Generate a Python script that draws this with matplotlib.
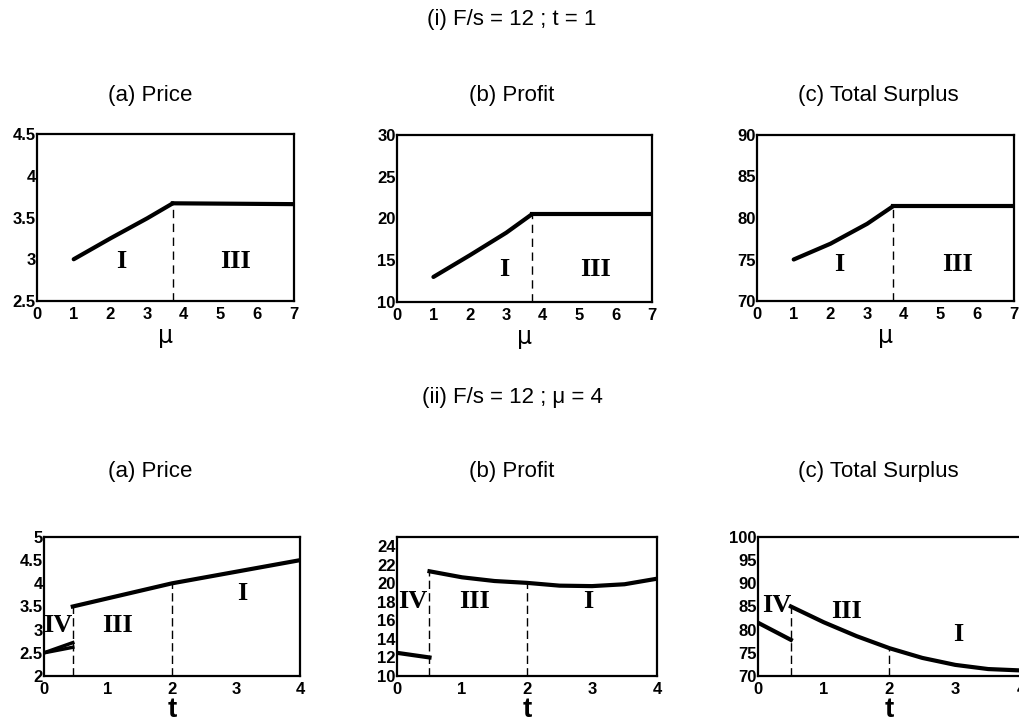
import matplotlib
matplotlib.use("Agg")
import matplotlib.pyplot as plt

# ---- data (top row: vs mu) ----
mu_I = [1.0, 2.0, 3.0, 3.7]
mu_III = [3.7, 7.0]
price_I = [3.0, 3.25, 3.49, 3.67]
price_III = [3.67, 3.66]
profit_I = [13.0, 15.6, 18.3, 20.5]
profit_III = [20.5, 20.5]
ts_I = [75.0, 76.9, 79.3, 81.4]
ts_III = [81.4, 81.4]
mu_break = 3.7

# ---- data (bottom row: vs t) ----
t_IV = [0.0, 0.45]
price_IV_a = [2.5, 2.62]
price_IV_b = [2.5, 2.72]
t_rest_p = [0.45, 2.0, 4.0]
price_rest = [3.5, 4.0, 4.5]

t_IV2 = [0.0, 0.5]
profit_IV = [12.5, 12.0]
t_rest = [0.5, 1.0, 1.5, 2.0, 2.5, 3.0, 3.5, 4.0]
profit_rest = [21.3, 20.65, 20.25, 20.05, 19.75, 19.7, 19.9, 20.5]
ts_IV = [81.5, 77.8]
ts_rest = [85.0, 81.6, 78.6, 76.0, 73.9, 72.4, 71.5, 71.2]

t_breaks_price = [0.45, 2.0]
t_breaks = [0.5, 2.0]

W, H = 1020, 725
fig = plt.figure(figsize=(W / 100, H / 100), dpi=100)

def rect(l, r, t, b):
    return [l / W, 1 - b / H, (r - l) / W, (b - t) / H]

tickfont = dict(family="Liberation Sans", weight="bold", size=12)
romfont = dict(family="Liberation Serif", weight="bold", size=19)
titlefont = dict(family="Liberation Sans", size=16)
mufont = dict(family="DejaVu Sans", size=17)
tfont = dict(family="Liberation Sans", weight="bold", size=20)

def style(ax, xlim, ylim, xticks, yticks, yticklabels=None):
    ax.set_xlim(*xlim)
    ax.set_ylim(*ylim)
    ax.set_xticks(xticks)
    ax.set_yticks(yticks)
    ax.set_xticklabels([str(x) for x in xticks], **tickfont)
    ax.set_yticklabels(yticklabels if yticklabels else [str(y) for y in yticks], **tickfont)
    ax.tick_params(axis="x", length=0, pad=4)
    ax.tick_params(axis="y", length=0, pad=1)
    for s in ax.spines.values():
        s.set_linewidth(1.6)

lw = 3
dash = (0, (6, 4))
# ---------- top row ----------
axa = fig.add_axes(rect(37, 294, 134, 301))
axa.plot(mu_I, price_I, color="black", lw=lw, solid_capstyle="round")
axa.plot(mu_III, price_III, color="black", lw=lw)
axa.plot([mu_break, mu_break], [2.5, price_I[-1]], color="black", lw=1, ls=dash)
style(axa, (0, 7), (2.5, 4.5), list(range(8)), [2.5, 3, 3.5, 4, 4.5],
      ["2.5", "3", "3.5", "4", "4.5"])
axa.text(2.3, 2.97, "I", ha="center", va="center", **romfont)
axa.text(5.4, 2.97, "III", ha="center", va="center", **romfont)
axa.set_xlabel("μ", labelpad=2, **mufont)

axb = fig.add_axes(rect(397, 652, 135, 302))
axb.plot(mu_I, profit_I, color="black", lw=lw, solid_capstyle="round")
axb.plot(mu_III, profit_III, color="black", lw=lw)
axb.plot([mu_break, mu_break], [10, profit_I[-1]], color="black", lw=1, ls=dash)
style(axb, (0, 7), (10, 30), list(range(8)), [10, 15, 20, 25, 30])
axb.text(2.95, 13.9, "I", ha="center", va="center", **romfont)
axb.text(5.45, 13.9, "III", ha="center", va="center", **romfont)
axb.set_xlabel("μ", labelpad=2, **mufont)

axc = fig.add_axes(rect(757, 1014, 135, 301))
axc.plot(mu_I, ts_I, color="black", lw=lw, solid_capstyle="round")
axc.plot(mu_III, ts_III, color="black", lw=lw)
axc.plot([mu_break, mu_break], [70, ts_I[-1]], color="black", lw=1, ls=dash)
style(axc, (0, 7), (70, 90), list(range(8)), [70, 75, 80, 85, 90])
axc.text(2.25, 74.4, "I", ha="center", va="center", **romfont)
axc.text(5.45, 74.4, "III", ha="center", va="center", **romfont)
axc.set_xlabel("μ", labelpad=2, **mufont)

# ---------- bottom row ----------
dash2 = (0, (6, 3))
bxa = fig.add_axes(rect(44, 300, 537, 676))
bxa.plot(t_IV, price_IV_a, color="black", lw=2.5)
bxa.plot(t_IV, price_IV_b, color="black", lw=2.5)
bxa.plot(t_rest_p, price_rest, color="black", lw=lw)
bxa.plot([t_breaks_price[0]] * 2, [2, price_rest[0]], color="black", lw=1, ls=dash2)
bxa.plot([t_breaks_price[1]] * 2, [2, price_rest[1]], color="black", lw=1, ls=dash2)
style(bxa, (0, 4), (2, 5), [0, 1, 2, 3, 4], [2, 2.5, 3, 3.5, 4, 4.5, 5],
      ["2", "2.5", "3", "3.5", "4", "4.5", "5"])
bxa.text(0.22, 3.1, "IV", ha="center", va="center", **romfont)
bxa.text(1.15, 3.1, "III", ha="center", va="center", **romfont)
bxa.text(3.1, 3.77, "I", ha="center", va="center", **romfont)
bxa.set_xlabel("t", labelpad=0, **tfont)

bxb = fig.add_axes(rect(397, 657, 537, 676))
bxb.plot(t_IV2, profit_IV, color="black", lw=lw)
bxb.plot(t_rest, profit_rest, color="black", lw=lw)
bxb.plot([t_breaks[0]] * 2, [10, profit_rest[0]], color="black", lw=1, ls=dash2)
bxb.plot([t_breaks[1]] * 2, [10, profit_rest[3]], color="black", lw=1, ls=dash2)
style(bxb, (0, 4), (10, 25), [0, 1, 2, 3, 4], [10, 12, 14, 16, 18, 20, 22, 24])
bxb.text(0.25, 18.0, "IV", ha="center", va="center", **romfont)
bxb.text(1.2, 18.0, "III", ha="center", va="center", **romfont)
bxb.text(2.95, 18.0, "I", ha="center", va="center", **romfont)
bxb.set_xlabel("t", labelpad=0, **tfont)

bxc = fig.add_axes(rect(758, 1021, 537, 676))
bxc.plot(t_IV2, ts_IV, color="black", lw=lw)
bxc.plot(t_rest, ts_rest, color="black", lw=lw)
bxc.plot([t_breaks[0]] * 2, [70, ts_rest[0]], color="black", lw=1, ls=dash2)
bxc.plot([t_breaks[1]] * 2, [70, ts_rest[3]], color="black", lw=1, ls=dash2)
style(bxc, (0, 4), (70, 100), [0, 1, 2, 3, 4], [70, 75, 80, 85, 90, 95, 100])
bxc.text(0.28, 85.3, "IV", ha="center", va="center", **romfont)
bxc.text(1.35, 84.0, "III", ha="center", va="center", **romfont)
bxc.text(3.05, 79.0, "I", ha="center", va="center", **romfont)
bxc.set_xlabel("t", labelpad=0, **tfont)

# ---------- titles ----------
fig.text(512 / W, 1 - 20 / H, "(i) F/s = 12 ; t = 1", ha="center", va="center", **titlefont)
fig.text(150 / W, 1 - 95 / H, "(a) Price", ha="center", va="center", **titlefont)
fig.text(512 / W, 1 - 95 / H, "(b) Profit", ha="center", va="center", **titlefont)
fig.text(878 / W, 1 - 95 / H, "(c) Total Surplus", ha="center", va="center", **titlefont)
fig.text(512 / W, 1 - 398 / H, "(ii) F/s = 12 ; μ = 4", ha="center", va="center", **titlefont)
fig.text(150 / W, 1 - 472 / H, "(a) Price", ha="center", va="center", **titlefont)
fig.text(512 / W, 1 - 472 / H, "(b) Profit", ha="center", va="center", **titlefont)
fig.text(878 / W, 1 - 472 / H, "(c) Total Surplus", ha="center", va="center", **titlefont)

fig.savefig("out.png", dpi=100)
